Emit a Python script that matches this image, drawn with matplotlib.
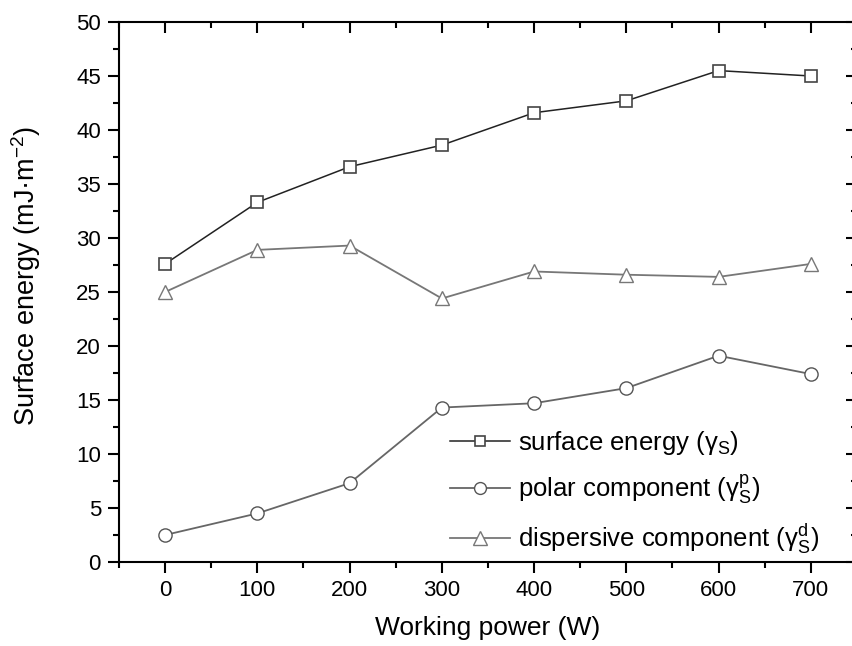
import numpy as np
import matplotlib.pyplot as plt
from matplotlib.ticker import MultipleLocator

plt.rcParams['font.family'] = ['Liberation Sans', 'DejaVu Sans']
plt.rcParams['mathtext.fontset'] = 'custom'
plt.rcParams['mathtext.rm'] = 'Liberation Sans'
plt.rcParams['mathtext.it'] = 'Liberation Sans:italic'

power = [0, 100, 200, 300, 400, 500, 600, 700]
surface = [27.6, 33.3, 36.6, 38.6, 41.6, 42.7, 45.5, 45.0]
polar = [2.5, 4.5, 7.3, 14.3, 14.7, 16.1, 19.1, 17.4]
dispersive = [25.0, 28.9, 29.3, 24.4, 26.9, 26.6, 26.4, 27.6]

fig = plt.figure(figsize=(8.53, 6.46), dpi=100)
ax = fig.add_axes([119/853, 1 - 562/646, (857-119)/853, (562-22)/646])

ax.plot(power, surface, '-s', color='#222222', lw=1.1, ms=8.5, mfc='white', mec='#444444', mew=1.2,
        label=r'surface energy (γ$_\mathrm{S}$)')
ax.plot(power, polar, '-o', color='#666666', lw=1.3, ms=9.5, mfc='white', mec='#555555', mew=1.0,
        label=r'polar component ($\mathrm{γ}_\mathrm{S}^\mathrm{p}$)')
ax.plot(power, dispersive, '-^', color='#777777', lw=1.3, ms=10.5, mfc='white', mec='#777777', mew=1.0,
        label=r'dispersive component ($\mathrm{γ}_\mathrm{S}^\mathrm{d}$)')

ax.set_xlim(-50, 750)
ax.set_ylim(0, 50)
ax.xaxis.set_major_locator(MultipleLocator(100))
ax.xaxis.set_minor_locator(MultipleLocator(50))
ax.yaxis.set_major_locator(MultipleLocator(5))
ax.yaxis.set_minor_locator(MultipleLocator(2.5))
ax.tick_params(which='both', direction='out', labelsize=16, width=1.5, pad=5)
ax.tick_params(which='major', length=8)
ax.tick_params(which='minor', length=4.5)
ax.tick_params(which='both', top=True, right=True)
for sp in ax.spines.values():
    sp.set_linewidth(1.5)

# top/right ticks point inward
for t in ax.xaxis.get_ticklines(minor=False)[1::2] + ax.xaxis.get_ticklines(minor=True)[1::2]:
    t.set_marker(3)
for t in ax.yaxis.get_ticklines(minor=False)[1::2] + ax.yaxis.get_ticklines(minor=True)[1::2]:
    t.set_marker(0)

ax.set_xlabel('Working power (W)', fontsize=19, labelpad=11)
ax.set_ylabel(r'Surface energy (mJ·m$^{-2}$)', fontsize=19.5)
ax.yaxis.set_label_coords(-0.103, 0.53)

ax.legend(loc='lower left', bbox_to_anchor=(0.4485, 0.012), frameon=False, fontsize=18.5,
          borderaxespad=0, borderpad=0,
          handlelength=2.35, handletextpad=0.3, labelspacing=0.6, markerscale=0.9)

fig.savefig('out.png', dpi=100)
